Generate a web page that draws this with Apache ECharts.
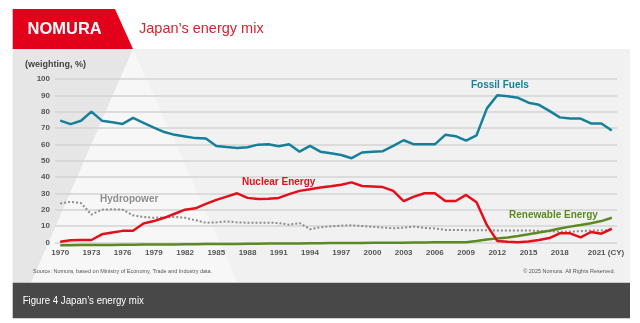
<!DOCTYPE html>
<html><head><meta charset="utf-8">
<script src="https://cdn.jsdelivr.net/npm/echarts@6/dist/echarts.min.js"></script>
<style>html,body{margin:0;padding:0;background:#fff;}#c{width:640px;height:323px;}</style>
</head><body><div id="c"></div>
<script>
const years = [];
for (let y = 1970; y <= 2023; y++) years.push(String(y));
const fossilFuels = [74.5,72.4,74.4,80,74.5,73.5,72.5,76.2,73.2,70.2,67.5,65.8,64.8,63.8,63.6,59,58.3,57.8,58.2,59.8,60,58.8,60,55.5,59,55.5,54.5,53.5,51.5,55,55.5,55.8,59,62.5,60,60,60,65.8,65,62.3,65.5,82,90,89.5,88.5,85.5,84.2,80.5,76.5,75.8,75.8,72.8,72.8,68.5];
const nuclearEnergy = [0.4,1.2,1.4,1.4,4.9,6,7,7.1,11.5,13,15,17.5,20,20.8,23.5,26,28,30,27.2,26.5,26.6,27.2,29.5,31.5,32.5,33.5,34.3,35.2,36.7,34.5,34.2,33.8,31.5,25.2,28,30,30,25.3,25.3,29,24.5,10.5,0.8,0.3,0,0.5,1.4,2.6,5.5,5.5,3,6.3,5.3,8.3];
const hydropower = [23.8,24.8,24,17,20,20.2,20,16.5,15.5,15,15.3,15.5,15,13.5,12,12.2,12.8,12.2,12,12,12,11.8,10.8,11.8,8,9.2,9.8,10.2,10.4,10,9.5,9,8.6,9,9.6,8.8,8.5,7.6,7.6,7.4,7.3,7.4,7.2,7.2,7.2,7.2,7,6.8,6.5,6.5,6.8,7.2,7.3,7.5];
const renewableEnergy = [-1.8,-1.8,-1.7,-1.7,-1.6,-1.6,-1.5,-1.5,-1.4,-1.4,-1.3,-1.3,-1.2,-1.2,-1.1,-1.1,-1.0,-1.0,-0.9,-0.9,-0.8,-0.8,-0.7,-0.7,-0.6,-0.6,-0.5,-0.5,-0.4,-0.4,-0.3,-0.3,-0.2,-0.2,-0.1,-0.1,0,0,0,0.1,0.8,1.7,2.4,3,3.9,4.9,6,7.1,8.4,9.6,10.6,11.7,13,15];
const yTicks = {min: 0, max: 100, interval: 10};

const FF = 'Liberation Sans, Arial, sans-serif';
const chart = echarts.init(document.getElementById('c'), null, {renderer: 'canvas'});
function txt(text, x, y, o) {
  return Object.assign({type: 'text', x: x, y: y, silent: true, z: 100,
    style: Object.assign({text: text, fontFamily: FF, textAlign: 'left', align: 'left',
      textVerticalAlign: 'middle', verticalAlign: 'middle'}, o.style || {})}, o.el || {});
}
chart.setOption({
  animation: false,
  backgroundColor: '#ffffff',
  grid: {left: 55, right: 23, top: 79, bottom: 80.7},
  xAxis: {
    type: 'category', data: years, boundaryGap: true,
    axisLine: {show: false}, axisTick: {show: false},
    axisLabel: {interval: 2, margin: 6, fontSize: 8, fontWeight: 'bold', color: '#555', fontFamily: FF,
      formatter: v => v === '2021' ? '{a|2021 (CY)}' : v,
      rich: {a: {padding: [0, 0, 0, 30], fontSize: 8, fontWeight: 'bold', color: '#555', fontFamily: FF}}}
  },
  yAxis: {
    type: 'value', min: yTicks.min, max: yTicks.max, interval: yTicks.interval,
    axisLine: {show: false}, axisTick: {show: false},
    axisLabel: {margin: 5, fontSize: 8, fontWeight: 'bold', color: '#555', fontFamily: FF},
    splitLine: {lineStyle: {color: '#d3d3d3', width: 1.5}}
  },
  series: [
    {name: 'Hydropower', type: 'line', data: hydropower, symbol: 'none', clip: false,
      lineStyle: {color: '#8d8d8d', width: 2, type: [2, 2]}},
    {name: 'Renewable Energy', type: 'line', data: renewableEnergy, symbol: 'none', clip: false,
      lineStyle: {color: '#5b8a22', width: 2.5}},
    {name: 'Nuclear Energy', type: 'line', data: nuclearEnergy, symbol: 'none', clip: false,
      lineStyle: {color: '#e3101c', width: 2.5}},
    {name: 'Fossil Fuels', type: 'line', data: fossilFuels, symbol: 'none', clip: false,
      lineStyle: {color: '#16809b', width: 2.5}}
  ],
  graphic: [
    {type: 'rect', z: -10, silent: true, shape: {x: 12.7, y: 49, width: 617.3, height: 233.7}, style: {fill: '#f1f1f1'}},
    {type: 'polygon', z: -9, silent: true, shape: {points: [[12.7, 49], [133, 49], [31, 282.7], [12.7, 282.7]]}, style: {fill: '#e6e6e6'}},
    {type: 'polygon', z: -9, silent: true, shape: {points: [[133, 49], [31, 282.7], [238, 282.7]]}, style: {fill: '#f7f7f7'}},
    {type: 'polygon', z: 5, silent: true, shape: {points: [[12.7, 9], [115, 9], [133, 49], [12.7, 49]]}, style: {fill: '#e2001a'}},
    {type: 'rect', z: 5, silent: true, shape: {x: 12.7, y: 282.7, width: 617.3, height: 35.6}, style: {fill: '#484848'}},
    txt('NOMURA', 27.5, 29.5, {style: {fill: '#fff', fontSize: 16.5, fontWeight: 'bold'}}),
    txt('Japan\u2019s energy mix', 139, 29, {style: {fill: '#d9232e', fontSize: 14.5}}),
    txt('(weighting, %)', 25, 65, {style: {fill: '#444', fontSize: 9, fontWeight: 'bold'}}),
    txt('Fossil Fuels', 471, 85, {style: {fill: '#16809b', fontSize: 10, fontWeight: 'bold'}}),
    txt('Nuclear Energy', 242, 182, {style: {fill: '#e3101c', fontSize: 10, fontWeight: 'bold'}}),
    txt('Hydropower', 100, 199, {style: {fill: '#8d8d8d', fontSize: 10, fontWeight: 'bold'}}),
    txt('Renewable Energy', 509, 215.5, {style: {fill: '#5b8a22', fontSize: 10, fontWeight: 'bold'}}),
    txt('Source: Nomura, based on Ministry of Economy, Trade and Industry data.', 33, 271.7, {style: {fill: '#555', fontSize: 5.5}}),
    txt('\u00a9 2025 Nomura. All Rights Reserved.', 615, 271.7, {style: {fill: '#555', fontSize: 5.5, textAlign: 'right', align: 'right'}}),
    txt('Figure 4 Japan\u2019s energy mix', 22.7, 301, {style: {fill: '#fff', fontSize: 11.5}, el: {scaleX: 0.84}})
  ]
});
</script></body></html>
